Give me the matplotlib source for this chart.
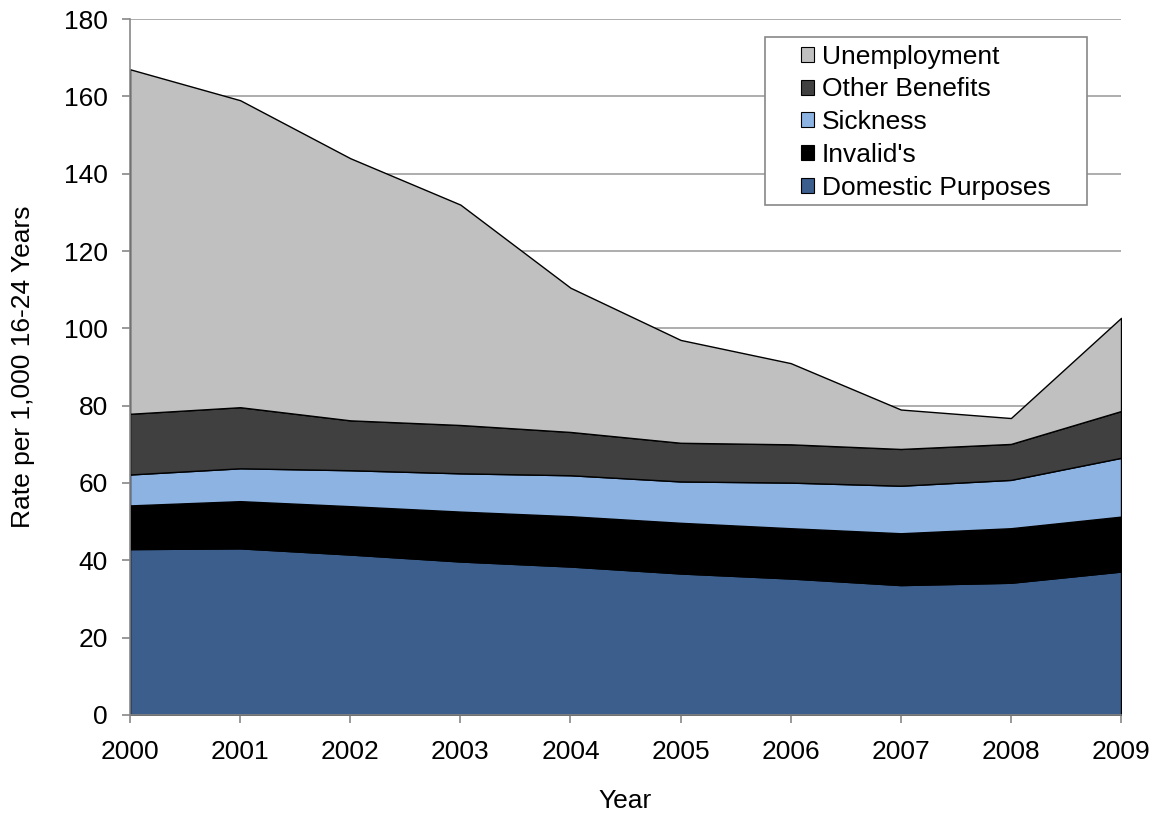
import matplotlib.pyplot as plt
from matplotlib.patches import Patch, Rectangle

plt.rcParams['font.family'] = ['Liberation Sans', 'DejaVu Sans']

years = [2000, 2001, 2002, 2003, 2004, 2005, 2006, 2007, 2008, 2009]
domestic = [42.9, 43.1, 41.5, 39.7, 38.4, 36.6, 35.3, 33.6, 34.2, 37.1]
invalids = [11.3, 12.2, 12.5, 12.9, 13.0, 13.1, 13.0, 13.4, 14.1, 14.2]
sickness = [8.0, 8.5, 9.3, 9.9, 10.6, 10.7, 11.8, 12.3, 12.5, 15.2]
other = [15.7, 15.8, 12.9, 12.5, 11.2, 10.0, 9.9, 9.5, 9.3, 12.1]
unemployment = [89.1, 79.4, 67.8, 57.0, 37.3, 26.6, 21.0, 10.2, 6.7, 24.1]

labels = ['Domestic Purposes', "Invalid's", 'Sickness', 'Other Benefits', 'Unemployment']
colors = ['#3B5E8C', '#000000', '#8DB3E2', '#404040', '#C0C0C0']

fig = plt.figure(figsize=(11.57, 8.16), dpi=100)
ax = fig.add_axes([0.1124, 0.1238, 0.8565, 0.8529])

ax.stackplot(years, domestic, invalids, sickness, other, unemployment,
             colors=colors, edgecolor='black', linewidth=1.0, zorder=3)

ax.set_xlim(2000, 2009)
ax.set_ylim(0, 180)
ax.set_yticks(range(0, 181, 20))
ax.set_xticks(years)
ax.yaxis.grid(True, color='#A0A0A0', linewidth=1.2, zorder=0)
ax.set_axisbelow(True)

for s in ['top', 'right']:
    ax.spines[s].set_visible(False)
for s in ['left', 'bottom']:
    ax.spines[s].set_color('#888888')
    ax.spines[s].set_linewidth(1.2)
    ax.spines[s].set_zorder(4)
ax.tick_params(axis='both', direction='out', length=6, color='#888888',
               labelsize=19, width=1.2)
ax.tick_params(axis='x', pad=12)
ax.tick_params(axis='y', pad=10)

ax.set_xlabel('Year', fontsize=19, labelpad=18)
ax.set_ylabel('Rate per 1,000 16-24 Years', fontsize=19, labelpad=21)

# legend frame drawn as a box, entries placed inside it
ax.add_patch(Rectangle((0.6408, 0.7328), 0.3249, 0.2413, transform=ax.transAxes,
                       facecolor='white', edgecolor='#888888', linewidth=1.2,
                       zorder=5, clip_on=False))
handles = [Patch(facecolor=c, edgecolor='black', linewidth=0.8) for c in colors]
leg = ax.legend(handles[::-1], labels[::-1], loc='upper left',
                bbox_to_anchor=(0.677, 0.963), fontsize=19, frameon=False,
                handlelength=0.5, handleheight=0.5, handletextpad=0.3,
                labelspacing=0.33, borderpad=0, borderaxespad=0)
leg.set_zorder(6)

fig.savefig('out.png', dpi=100)
